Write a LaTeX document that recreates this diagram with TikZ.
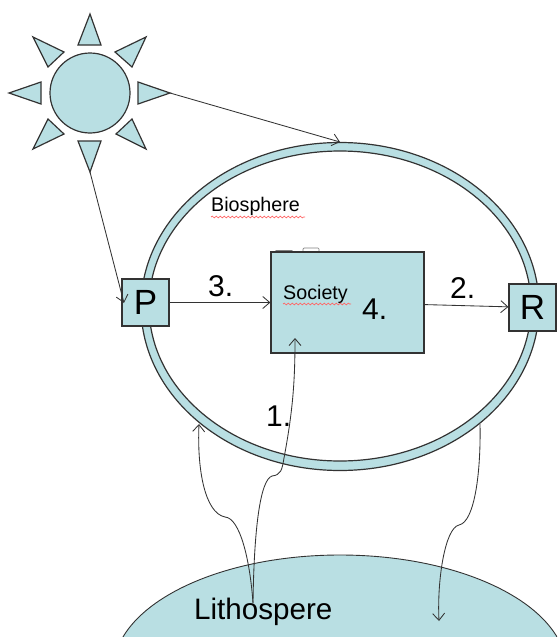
\documentclass[tikz,border=0pt]{standalone}
\usepackage{fontspec}
\setmainfont{Liberation Sans}
\usetikzlibrary{arrows.meta,decorations.pathmorphing,shapes.geometric}
\definecolor{teal1}{HTML}{B9DFE3}
\definecolor{edge1}{HTML}{333333}
\tikzset{
  x=1pt,y=-1pt,
  shape1/.style={draw=edge1,fill=teal1,line width=1.2pt,line join=miter},
  boxn/.style={shape1,rectangle,inner sep=0pt,minimum width=47pt,minimum height=47pt,font=\fontsize{35}{35}\selectfont},
  conn/.style={draw=edge1,line width=0.85pt,-{Straight Barb[length=7pt,width=12pt,line width=0.85pt]}},
  lab/.style={inner sep=0pt,anchor=west,text=black},
  num/.style={lab,font=\fontsize{30}{30}\selectfont},
  small/.style={lab,font=\fontsize{19.7}{20}\selectfont},
  squiggle/.style={draw=red!60!white,line width=0.7pt,decorate,decoration={snake,amplitude=0.9pt,segment length=4pt}}
}
\begin{document}
\begin{tikzpicture}
\useasboundingbox (0,0) rectangle (557,637);
% lithosphere
\begin{scope}
\clip (0,0) rectangle (557,637);
\node[shape1,ellipse,line width=0.9pt,minimum width=453pt,minimum height=230pt,inner sep=0pt] (lith) at (340,670) {};
\end{scope}
% ring
\path[shape1,even odd rule] (340,306.5) ellipse [x radius=199,y radius=164] (340,306) ellipse [x radius=191,y radius=155];
% sun
\node[shape1,circle,minimum size=80pt,inner sep=0pt] (sun) at (90,93) {};
\path[shape1] (90,14) -- (78,45) -- (101,45) -- cycle;
\path[shape1] (146,37) -- (115,52) -- (132,67) -- cycle;
\path[shape1] (170,93) -- (138,82) -- (138,104) -- cycle;
\path[shape1] (146,149) -- (116,134) -- (132,119) -- cycle;
\path[shape1] (90,172) -- (78,141) -- (101,141) -- cycle;
\path[shape1] (33,149) -- (64,134) -- (48,119) -- cycle;
\path[shape1] (9,93) -- (41,82) -- (41,104) -- cycle;
\path[shape1] (33,37) -- (64,52) -- (48,67) -- cycle;
% stray marks behind society
\draw[gray,line width=0.7pt,rounded corners=1pt] (275,253) -- (275,250.5) -- (293,250.5) -- (293,253);
\draw[gray,line width=0.7pt,rounded corners=1pt] (303,253) -- (303,248) -- (319,248) -- (319,253);
% boxes
\node[shape1,rectangle,inner sep=0pt,minimum width=153pt,minimum height=101pt] (soc) at (347.5,302.5) {};
\node[boxn] (P) at (145.5,302.5) {P};
\node[boxn] (R) at (532.5,307.5) {R};
% connector ends
\coordinate (sunE) at (170,93);
\coordinate (sunS) at (90,172);
\coordinate (ringT) at (340,142);
\coordinate (pIn) at (124,303);
\coordinate (src) at (253,603);
\coordinate (socB) at (295,338);
\coordinate (ringL) at (199,424);
\coordinate (ringR) at (480,424);
\coordinate (lithIn) at (439,621);
% connectors
\draw[conn] (sunE) -- (ringT);
\draw[conn] (sunS) -- (pIn);
\draw[conn] (P) -- (soc);
\draw[conn] (soc) -- (R);
\draw[conn] (src) .. controls (254,530) and (260,480) .. (272,476)
  .. controls (281,475) and (282,470) .. (284,458)
  .. controls (293,410) and (295,380) .. (socB);
\draw[conn] (src) .. controls (250,560) and (240,518) .. (225,517)
  .. controls (205,513) and (197,470) .. (ringL);
\draw[conn] (ringR) .. controls (481,470) and (475,522) .. (459,525)
  .. controls (445,528) and (437,580) .. (lithIn);
% labels
\node[small] (bio) at (211,206) {Biosphere};
\node[small] (society) at (283,294) {Society};
\node[num] (n3) at (208,286) {3.};
\node[num] (n4) at (362,309) {4.};
\node[num] (n2) at (450,288) {2.};
\node[num] (n1) at (266,416) {1.};
\node[lab,font=\fontsize{29.6}{30}\selectfont] (lname) at (194,612) {Lithospere};
% spell-check squiggles
\draw[squiggle] (211,217) -- (305,217);
\draw[squiggle] (283,304) -- (351,304);
\end{tikzpicture}
\end{document}
